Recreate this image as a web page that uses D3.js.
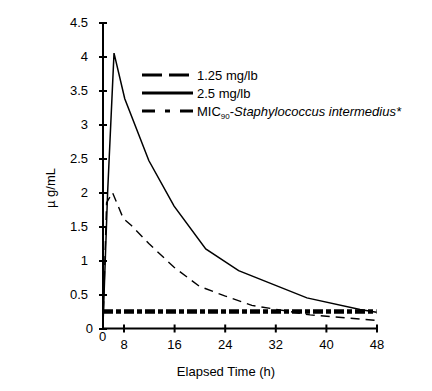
<!DOCTYPE html>
<html>
<head>
<meta charset="utf-8">
<script src="https://cdn.jsdelivr.net/npm/d3@7"></script>
<style>
  body { margin: 0; background: #fff; }
  svg { display: block; font-family: "Liberation Sans", Arial, sans-serif; }
</style>
</head>
<body>
<svg width="432" height="391"></svg>
<script>
var xTicks = [0, 8, 16, 24, 32, 40, 48];
var yTicks = [0, 0.5, 1, 1.5, 2, 2.5, 3, 3.5, 4, 4.5];

var highTime  = [0, 1.8, 4.3, 8.2, 12, 16, 21, 26.2, 37, 45.4, 48];
var highValue = [0.05, 2.0, 4.05, 3.38, 2.47, 1.8, 1.17, 0.85, 0.45, 0.28, 0.24];

var lowTime  = [0, 1.4, 3.7, 7.9, 9.3, 12, 16, 20, 24, 28.3, 37.5, 48];
var lowValue = [0.05, 1.85, 2.0, 1.62, 1.51, 1.25, 0.9, 0.62, 0.48, 0.34, 0.2, 0.12];

var micTime  = [0, 48];
var micValue = [0.25, 0.25];

var legendLabels = ["1.25 mg/lb", "2.5 mg/lb", "MIC"];

var svg = d3.select("svg");

// axis is stretched between 0 and 8 in the original
var x = d3.scaleLinear().domain([0, 8, 48]).range([103, 123.5, 376.5]);
var y = d3.scaleLinear().domain([0, 4.5]).range([328.5, 22.5]);

function pairs(t, v) {
    return t.map(function(d, i) { return { t: d, v: v[i] }; });
}

var line = d3.line()
    .x(function(d) { return x(d.t); })
    .y(function(d) { return y(d.v); });

// MIC line
svg.append("path")
    .datum(pairs(micTime, micValue))
    .attr("d", line)
    .style("fill", "none")
    .style("stroke", "#000")
    .style("stroke-width", 4.5)
    .style("stroke-dasharray", "10,3,5,3");

// 1.25 mg/lb
svg.append("path")
    .datum(pairs(lowTime, lowValue))
    .attr("d", line)
    .style("fill", "none")
    .style("stroke", "#000")
    .style("stroke-width", 1.4)
    .style("stroke-dasharray", "9,6");

// 2.5 mg/lb
svg.append("path")
    .datum(pairs(highTime, highValue))
    .attr("d", line)
    .style("fill", "none")
    .style("stroke", "#000")
    .style("stroke-width", 1.5);

// Y axis
var yAxis = svg.append("g")
    .attr("transform", "translate(" + x(0) + ",0)")
    .call(d3.axisLeft(y).tickValues(yTicks).tickSize(4).tickPadding(12).tickFormat(function(d) { return d; }));
yAxis.select(".domain").attr("d", "M0," + y(4.5) + "V" + y(0)).style("stroke-width", 2);
yAxis.selectAll(".tick line").attr("x1", -4).attr("x2", 4).style("stroke-width", 2);
yAxis.selectAll(".tick text")
    .style("font-size", "13px")
    .attr("x", function(d) { return d === 0 ? -10 : -15; });

// X axis
var xAxis = svg.append("g")
    .attr("transform", "translate(0," + y(0) + ")")
    .call(d3.axisBottom(x).tickValues(xTicks).tickSize(4).tickPadding(12));
xAxis.select(".domain").attr("d", "M" + x(0) + ",0H" + x(48)).style("stroke-width", 2);
xAxis.selectAll(".tick line").attr("y1", -4).attr("y2", 4).style("stroke-width", 2);
xAxis.selectAll(".tick text")
    .style("font-size", "13px")
    .attr("x", function(d) { return d === 0 ? -1 : 0; })
    .attr("y", function(d) { return d === 0 ? 3 : 11; });
xAxis.selectAll(".tick").filter(function(d) { return d === 0; }).select("line").remove();

// titles
svg.append("text")
    .attr("transform", "translate(55,188) rotate(-90)")
    .attr("text-anchor", "middle")
    .style("font-size", "13px")
    .text("\u00b5 g/mL");

svg.append("text")
    .attr("x", 226)
    .attr("y", 376)
    .attr("text-anchor", "middle")
    .style("font-size", "13px")
    .text("Elapsed Time (h)");

// legend
var legendY = [75, 93, 111];
var legendDash = ["20,7", null, "13,10,5,10"];
var legendWidth = [2.8, 2.8, 2.8];

legendLabels.forEach(function(label, i) {
    svg.append("line")
        .attr("x1", 142).attr("x2", 193)
        .attr("y1", legendY[i]).attr("y2", legendY[i])
        .style("stroke", "#000")
        .style("stroke-width", legendWidth[i])
        .style("stroke-dasharray", legendDash[i]);

    var t = svg.append("text")
        .attr("x", 197)
        .attr("y", legendY[i] + 5)
        .style("font-size", "13px")
        .text(label);

    if (i === 2) {
        t.append("tspan").attr("dy", 3).style("font-size", "8px").text("90");
        t.append("tspan").attr("dy", -3).text("-");
        t.append("tspan").style("font-style", "italic").text("Staphylococcus intermedius*");
    }
});
</script>
</body>
</html>
